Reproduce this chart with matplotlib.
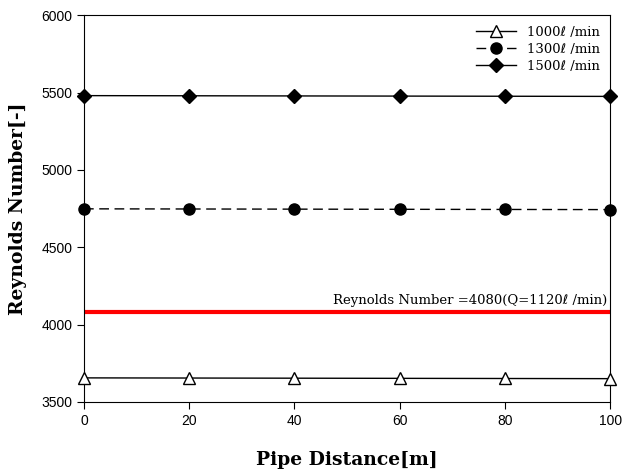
import matplotlib.pyplot as plt

distance = [0, 20, 40, 60, 80, 100]
re_1000 = [3655, 3654, 3653, 3652, 3651, 3650]
re_1300 = [4748, 4747, 4746, 4745, 4744, 4743]
re_1500 = [5480, 5479, 5478, 5477, 5476, 5475]
re_critical = 4080

serif = ["DejaVu Serif", "DejaVu Sans", "Noto Sans CJK SC"]

fig = plt.figure(figsize=(6.22, 4.75), dpi=100)
ax = fig.add_axes([0.135, 0.154, 0.846, 0.814])

ax.plot(distance, re_1000, color="black", lw=1, marker="^", ms=8,
        mfc="white", mec="black", label="1000ℓ /min", clip_on=False, zorder=3)
ax.plot(distance, re_1300, color="black", lw=1, ls=(0, (7, 4)), marker="o", ms=8,
        label="1300ℓ /min", clip_on=False, zorder=3)
ax.plot(distance, re_1500, color="black", lw=1, marker="D", ms=7,
        label="1500ℓ /min", clip_on=False, zorder=3)

# Ligne critique
ax.axhline(re_critical, color="red", lw=3, zorder=2)
ax.text(99.5, re_critical + 35, "Reynolds Number =4080(Q=1120ℓ /min)",
        ha="right", va="bottom", fontsize=9.5, family=serif)

ax.set_xlim(0, 100)
ax.set_ylim(3500, 6000)
ax.set_xticks(distance)
ax.set_yticks([3500, 4000, 4500, 5000, 5500, 6000])
ax.tick_params(direction="out", length=5, labelsize=10, top=False, right=False)
for lbl in ax.get_xticklabels() + ax.get_yticklabels():
    lbl.set_family("Liberation Sans")

ax.set_xlabel("Pipe Distance[m]", fontsize=13.5, fontweight="bold",
              family=serif, labelpad=17)
ax.set_ylabel("Reynolds Number[-]", fontsize=13.5, fontweight="bold",
              family=serif, labelpad=10)

leg = ax.legend(loc="upper right", frameon=False,
                prop={"family": serif, "size": 9.5}, handlelength=3,
                borderaxespad=0.4, labelspacing=0.3, handletextpad=0.8)

fig.savefig("out.png", dpi=100)
